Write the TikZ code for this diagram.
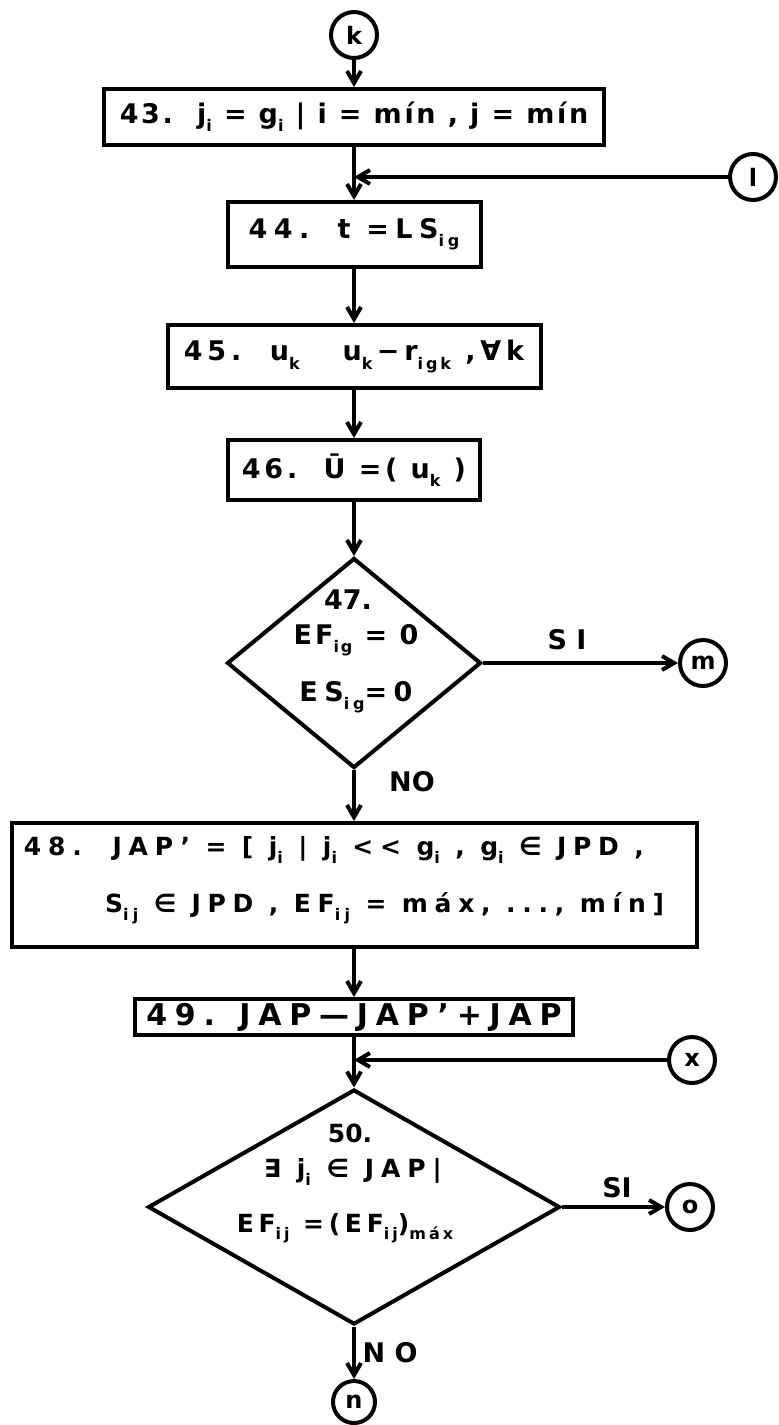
\documentclass[tikz,border=0pt]{standalone}
\usepackage{fontspec}
\setmainfont{DejaVu Sans}
\usetikzlibrary{shapes.geometric,arrows.meta}
\newcommand\sbx[1]{\raisebox{-0.55ex}{\fontsize{8}{8}\selectfont #1}}
\newcommand\lsp[1]{\addfontfeature{LetterSpace=#1}}
\begin{document}
\begin{tikzpicture}[x=0.5pt,y=-0.5pt,
  line width=2pt,
  txt/.style={font=\bfseries\fontsize{12.5}{14}\selectfont, inner sep=0pt},
  big/.style={font=\bfseries\fontsize{13.5}{15}\selectfont, inner sep=0pt},
  box/.style={draw, rectangle, inner sep=0pt},
  dia/.style={draw, diamond, inner sep=0pt},
  conn/.style={draw, circle, inner sep=0pt, minimum size=23pt, font=\bfseries\fontsize{12}{12}\selectfont},
  arr/.style={-{Straight Barb[length=6pt,width=7pt]}}
]
\useasboundingbox[fill=white] (0,0) rectangle (778,1425);

% connectors (circles)
\node[conn] (k) at (354,35) {k};
\node[conn] (l) at (753,177) {l};
\node[conn] (m) at (703,663) {m};
\node[conn] (x) at (692,1060) {x};
\node[conn] (o) at (690,1207) {o};
\node[conn, minimum size=21pt] (n) at (354,1402) {n};

% boxes
\node[box, minimum width=250pt, minimum height=28pt, big] (b43) at (354,117)
  {\lsp{10}43.\ \ j\sbx{i} = g\sbx{i} | i = mín , j = mín};
\node[box, minimum width=126.5pt, minimum height=32.5pt, big] (b44) at (354,234.5)
  {\lsp{24}44.\hspace{14pt}t =LS\sbx{ig}};
\node[box, minimum width=186.5pt, minimum height=31.5pt, big] (b45) at (354,356.5)
  {\lsp{18}45.\ \ u\sbx{k}\ \ \ u\sbx{k}\,−r\sbx{igk} ,∀k};
\node[box, minimum width=126pt, minimum height=30pt, big] (b46) at (354,470)
  {\lsp{14}46.\ \ Ū =( u\sbx{k} )};

\node[dia, minimum width=127pt, minimum height=105pt] (d47) at (354,663) {};
\node[big] (t47a) at (348,600) {47.};
\node[big] (t47b) at (356,640) {\lsp{11}EF\sbx{ig} = 0};
\node[big] (t47c) at (356,697) {\lsp{24}ES\sbx{ig}=0};

\node[box, minimum width=342.5pt, minimum height=62pt] (b48) at (354,885) {};
\node[txt, anchor=west] (t48a) at (22,850)
  {\lsp{27}48.\ \ JAP' = [ j\sbx{i} | j\sbx{i} <{}< g\sbx{i} , g\sbx{i} ∈ JPD ,};
\node[txt, anchor=west] (t48b) at (103,908)
  {\lsp{27}S\sbx{ij} ∈ JPD , EF\sbx{ij} = máx, ..., mín]};

\node[box, minimum width=219pt, minimum height=18pt, font=\bfseries\fontsize{15}{15}\selectfont] (b49) at (354,1017)
  {\lsp{26}49. JAP—JAP'+JAP};

\node[dia, minimum width=206pt, minimum height=117.5pt] (d50) at (354,1207) {};
\node[txt] (t50a) at (350,1133) {50.};
\node[txt] (t50b) at (353,1172) {\lsp{28}∃\ j\sbx{i}\ ∈ JAP|};
\node[txt] (t50c) at (345,1228) {\lsp{19}EF\sbx{ij} =(EF\sbx{ij})\sbx{máx}};

% labels
\node[big] (si1) at (567,640) {S I};
\node[big] (no1) at (412,782) {NO};
\node[big] (si2) at (617,1188) {SI};
\node[big] (no2) at (390,1353) {N O};

% junctions
\coordinate (j1) at (354,177);
\coordinate (j2) at (354,1060);

% connectors
\draw[arr] (k) -- (b43);
\draw (b43) -- (j1);
\draw[arr] (j1) -- (b44);
\draw[arr] (l) -- (j1);
\draw[arr] (b44) -- (b45);
\draw[arr] (b45) -- (b46);
\draw[arr] (b46) -- (d47.north);
\draw[arr] (d47.east) -- (m);
\draw[arr] (d47.south) -- (b48);
\draw[arr] (b48) -- (b49);
\draw (b49) -- (j2);
\draw[arr] (j2) -- (d50.north);
\draw[arr] (x) -- (j2);
\draw[arr] (d50.east) -- (o);
\draw[arr] (d50.south) -- (n);
\end{tikzpicture}
\end{document}
